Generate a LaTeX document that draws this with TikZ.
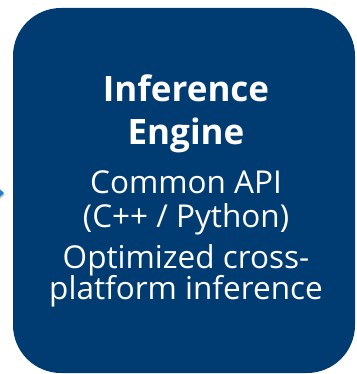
\documentclass[tikz,border=0pt]{standalone}
\usepackage{fontspec}
\setmainfont{Open Sans}
\usetikzlibrary{arrows.meta}
\definecolor{engineblue}{HTML}{003C71}
\definecolor{linkblue}{HTML}{1A80D6}
\tikzset{
  enginebox/.style={fill=engineblue, draw=none, rounded corners=48pt,
    minimum width=342pt, minimum height=365pt, inner sep=0pt},
  titleline/.style={anchor=base, text=white, inner sep=0pt,
    font=\fontsize{35}{40}\selectfont\bfseries},
  bodyline/.style={anchor=base, text=white, inner sep=0pt,
    font=\fontsize{31.5}{36}\selectfont},
  link/.style={draw=linkblue, line width=3pt,
    -{Triangle[length=7pt,width=12pt]}}
}
\begin{document}
\begin{tikzpicture}[x=1pt,y=-1pt]
\useasboundingbox (0,0) rectangle (356,374);
% incoming connector, cut by the page edge
\coordinate (src) at (-30,193);
\coordinate (tip) at (4,193);
\draw[link, draw=black!35, opacity=0.5] ([shift={(1,1.5)}]src) -- ([shift={(1,1.5)}]tip);
\draw[link] (src) -- (tip);
% engine block
\node[enginebox] (engine) at (184,190.5) {};
\node[titleline] (t1) at (186,102) {Inference};
\node[titleline] (t2) at (186,145) {Engine};
\node[bodyline] (b1) at (186,193) {Common API};
\node[bodyline] (b2) at (186,227) {(C++ / Python)};
\node[bodyline] (b3) at (186,268) {Optimized cross-};
\node[bodyline] (b4) at (186,299) {platform inference};
\end{tikzpicture}
\end{document}
